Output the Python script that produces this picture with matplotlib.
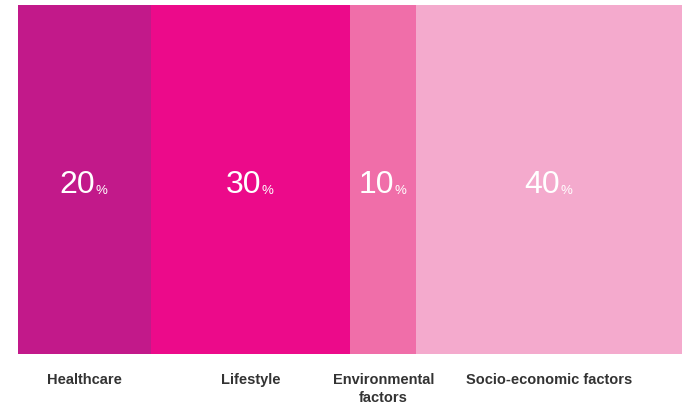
import matplotlib
matplotlib.use("Agg")
import matplotlib.pyplot as plt

categories = ["Healthcare", "Lifestyle", "Environmental\nfactors", "Socio-economic factors"]
values = [20, 30, 10, 40]
colors = ["#C2198A", "#EC0A8A", "#F06EA9", "#F4AACD"]

W, H = 682, 405
fig = plt.figure(figsize=(W / 100, H / 100), dpi=100)
ax = fig.add_axes([18 / W, (H - 354) / H, 664 / W, (354 - 5) / H])

left = 0
for cat, v, c in zip(categories, values, colors):
    ax.barh(0, v, left=left, height=1, color=c, edgecolor="none")
    cx = left + v / 2
    t = ax.annotate(str(v), xy=(cx, 0.5), xycoords=("data", "axes fraction"),
                    xytext=(-5, -4), textcoords="offset points",
                    ha="center", va="center", color="white",
                    fontsize=23, family="Liberation Sans")
    ax.annotate("%", xy=(1, 0), xycoords=t, xytext=(0.5, 4), textcoords="offset points",
                ha="left", va="baseline", color="white", fontsize=9.5,
                family="Liberation Sans")
    ax.annotate(cat, xy=(cx, 0), xycoords=("data", "axes fraction"),
                xytext=(0, -14), textcoords="offset points",
                ha="center", va="top", color="#333333", fontsize=10.5,
                fontweight="bold", family="Liberation Sans", linespacing=1.3)
    left += v

ax.set_xlim(0, sum(values))
ax.set_ylim(-0.5, 0.5)
ax.axis("off")

fig.savefig("out.png", dpi=100)
